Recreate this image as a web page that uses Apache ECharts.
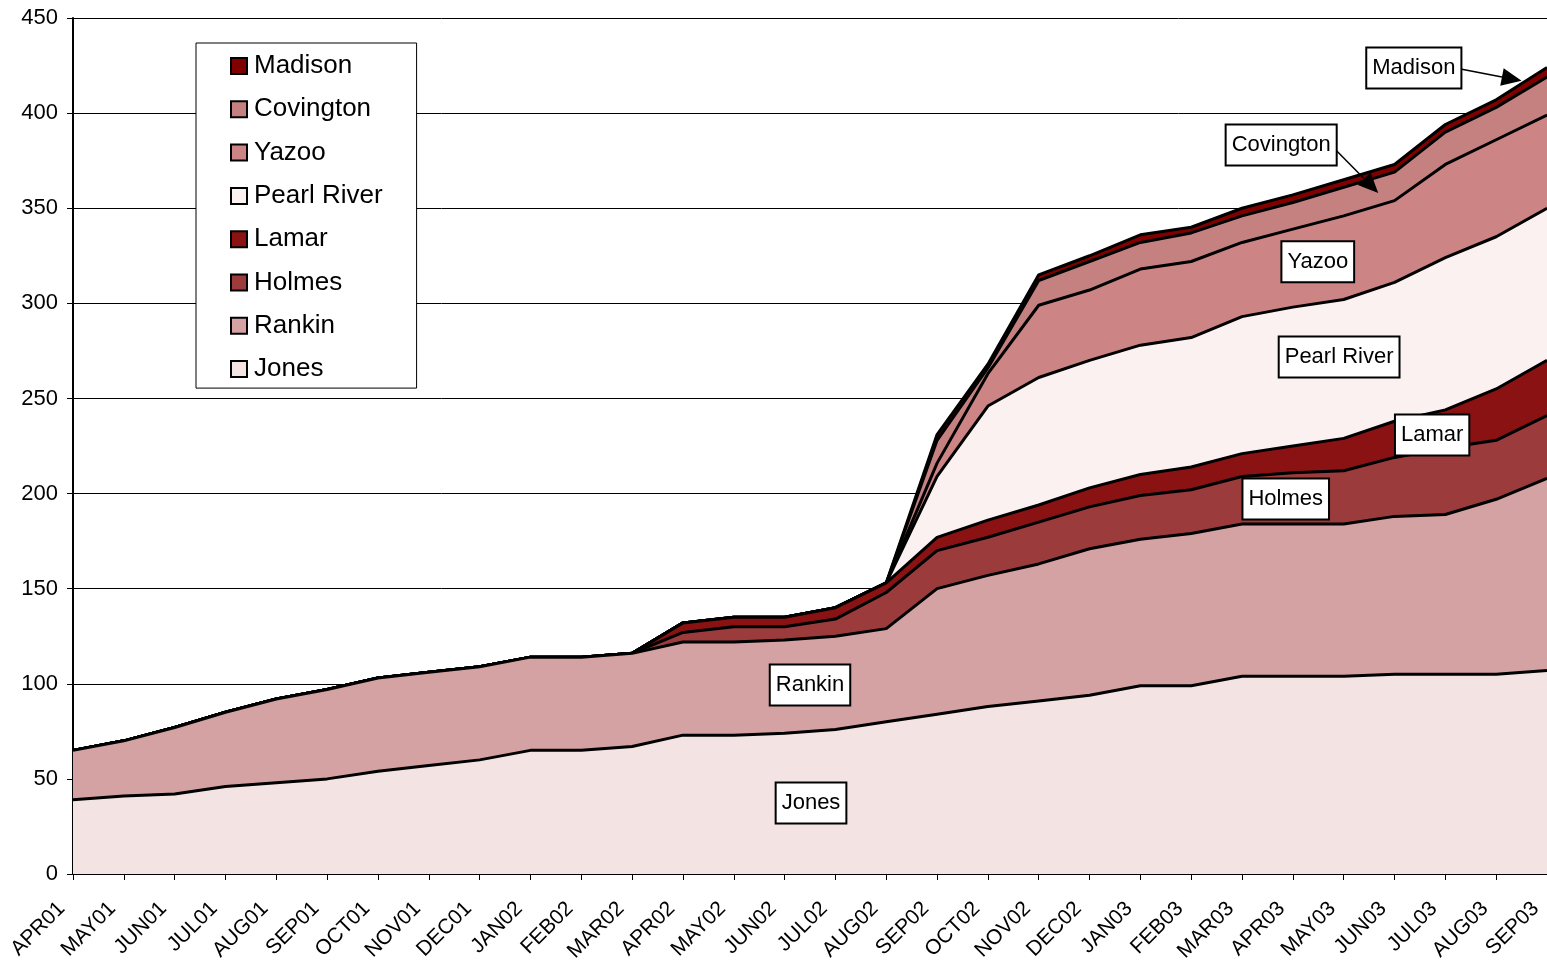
<!DOCTYPE html>
<html>
<head>
<meta charset="utf-8">
<script src="https://cdn.jsdelivr.net/npm/echarts@6/dist/echarts.min.js"></script>
<style>
  html, body { margin: 0; padding: 0; background: #fff; }
  #chart { width: 1547px; height: 964px; }
</style>
</head>
<body>
<div id="chart"></div>
<script>
const months = ['APR01', 'MAY01', 'JUN01', 'JUL01', 'AUG01', 'SEP01', 'OCT01', 'NOV01', 'DEC01', 'JAN02',
  'FEB02', 'MAR02', 'APR02', 'MAY02', 'JUN02', 'JUL02', 'AUG02', 'SEP02', 'OCT02', 'NOV02',
  'DEC02', 'JAN03', 'FEB03', 'MAR03', 'APR03', 'MAY03', 'JUN03', 'JUL03', 'AUG03', 'SEP03']

// values per county, bottom of the stack first
const jones = [39, 41, 42, 46, 48, 50, 54, 57, 60, 65, 65, 67, 73, 73, 74, 76, 80, 84, 88, 91, 94, 99, 99, 104, 104, 104, 105, 105, 105, 107]
const rankin = [26, 29, 35, 39, 44, 47, 49, 49, 49, 49, 49, 49, 49, 49, 49, 49, 49, 66, 69, 72, 77, 77, 80, 80, 80, 80, 83, 84, 92, 101]
const holmes = [0, 0, 0, 0, 0, 0, 0, 0, 0, 0, 0, 0, 5, 8, 7, 9, 19, 20, 20, 22, 22, 23, 23, 25, 27, 28, 31, 35, 31, 33]
const lamar = [0, 0, 0, 0, 0, 0, 0, 0, 0, 0, 0, 0, 5, 5, 5, 6, 5, 7, 9, 9, 10, 11, 12, 12, 14, 17, 19, 20, 27, 29]
const pearlRiver = [0, 0, 0, 0, 0, 0, 0, 0, 0, 0, 0, 0, 0, 0, 0, 0, 0, 32, 60, 67, 67, 68, 68, 72, 73, 73, 73, 80, 80, 80]
const yazoo = [0, 0, 0, 0, 0, 0, 0, 0, 0, 0, 0, 0, 0, 0, 0, 0, 0, 7, 17, 38, 37, 40, 40, 39, 41, 44, 43, 49, 51, 49]
const covington = [0, 0, 0, 0, 0, 0, 0, 0, 0, 0, 0, 0, 0, 0, 0, 0, 0, 12, 3, 13, 15, 14, 15, 14, 14, 15, 15, 17, 17, 20]
const madison = [0, 0, 0, 0, 0, 0, 0, 0, 0, 0, 0, 0, 0, 0, 0, 0, 0, 3, 2, 3, 3, 4, 3, 4, 4, 4, 4, 4, 4, 5]

const yTicks = { min: 0, max: 450, step: 50 }

const layers = [
  { name: 'Jones', data: jones, color: '#f3e3e3' },
  { name: 'Rankin', data: rankin, color: '#d4a2a2' },
  { name: 'Holmes', data: holmes, color: '#9b3b3b' },
  { name: 'Lamar', data: lamar, color: '#8a1212' },
  { name: 'Pearl River', data: pearlRiver, color: '#fbf1f1' },
  { name: 'Yazoo', data: yazoo, color: '#cd8484' },
  { name: 'Covington', data: covington, color: '#c58080' },
  { name: 'Madison', data: madison, color: '#800000' }
]

// label boxes: [text, category index, value]
const callouts = [
  ['Madison', 26.38, 423.7],
  ['Covington', 23.77, 383.3],
  ['Yazoo', 24.49, 321.8],
  ['Pearl River', 24.91, 271.8],
  ['Lamar', 26.74, 230.8],
  ['Holmes', 23.86, 197.2],
  ['Rankin', 14.5, 99.4],
  ['Jones', 14.52, 37.3]
]
// arrows: [from idx, from value, to idx, to value]
const arrows = [
  [27.3, 423.2, 28.5, 417.0],
  [24.85, 380.5, 25.68, 358.0]
]

const font = '"Liberation Sans", Arial, sans-serif'
const chart = echarts.init(document.getElementById('chart'))

const series = layers.map((l, i) => ({
  name: l.name,
  type: 'line',
  stack: 'total',
  data: l.data,
  symbol: 'none',
  z: 2 + (layers.length - i),
  lineStyle: { color: '#000', width: 3 },
  itemStyle: { color: l.color },
  areaStyle: { color: l.color, opacity: 1 },
  emphasis: { disabled: true }
}))

chart.setOption({
  animation: false,
  grid: { left: 73, right: 0, top: 18, bottom: 90, outerBoundsMode: 'none' },
  legend: {
    orient: 'vertical',
    left: 196,
    top: 43,
    data: layers.map(l => l.name).reverse(),
    icon: 'rect',
    itemWidth: 16,
    itemHeight: 16,
    itemGap: 17.3,
    padding: [10, 34, 6, 34],
    borderColor: '#000',
    borderWidth: 1,
    backgroundColor: '#fff',
    itemStyle: { borderColor: '#000', borderWidth: 2 },
    textStyle: { fontFamily: font, fontSize: 26, color: '#000', lineHeight: 25, padding: [0, 0, 0, 2] },
    selectedMode: false
  },
  xAxis: {
    type: 'category',
    boundaryGap: false,
    data: months,
    axisLine: { lineStyle: { color: '#000', width: 2 } },
    axisTick: { show: true, length: 6, lineStyle: { color: '#000' } },
    axisLabel: { interval: 0, rotate: 45, fontFamily: font, fontSize: 21, color: '#000', margin: 20, padding: [0, 16, 0, 0] },
    splitLine: { show: false }
  },
  yAxis: {
    type: 'value',
    min: yTicks.min,
    max: yTicks.max,
    interval: yTicks.step,
    axisLine: { show: true, lineStyle: { color: '#000', width: 2 } },
    axisTick: { show: true, length: 6, lineStyle: { color: '#000' } },
    axisLabel: { fontFamily: font, fontSize: 22, color: '#000', margin: 15 },
    splitLine: { show: true, lineStyle: { color: '#000', width: 1 } }
  },
  series: series
})

// category axis snaps to whole indices, so interpolate between neighbours
function toPixel(idx, val) {
  const i0 = Math.floor(idx), i1 = Math.min(i0 + 1, months.length - 1)
  const a = chart.convertToPixel({ gridIndex: 0 }, [i0, val])
  const b = chart.convertToPixel({ gridIndex: 0 }, [i1, val])
  const t = idx - i0
  return [a[0] + (b[0] - a[0]) * t, a[1]]
}

const graphics = []
arrows.forEach(a => {
  const p0 = toPixel(a[0], a[1])
  const p1 = toPixel(a[2], a[3])
  const ang = Math.atan2(p1[1] - p0[1], p1[0] - p0[0])
  const len = 20, half = 9
  const bx = p1[0] - len * Math.cos(ang), by = p1[1] - len * Math.sin(ang)
  graphics.push({
    type: 'line', z: 100,
    shape: { x1: p0[0], y1: p0[1], x2: bx, y2: by },
    style: { stroke: '#000', lineWidth: 1.5 }
  })
  graphics.push({
    type: 'polygon', z: 100,
    shape: { points: [p1, [bx - half * Math.sin(ang), by + half * Math.cos(ang)], [bx + half * Math.sin(ang), by - half * Math.cos(ang)]] },
    style: { fill: '#000' }
  })
})
callouts.forEach(c => {
  const p = toPixel(c[1], c[2])
  graphics.push({
    type: 'text', z: 101,
    x: p[0], y: p[1],
    style: {
      text: c[0],
      fontFamily: font,
      fontSize: 22,
      fill: '#000',
      align: 'center',
      verticalAlign: 'middle',
      backgroundColor: '#fff',
      borderColor: '#000',
      borderWidth: 2,
      padding: [9, 5, 8, 5]
    }
  })
})
chart.setOption({ graphic: graphics })
</script>
</body>
</html>
